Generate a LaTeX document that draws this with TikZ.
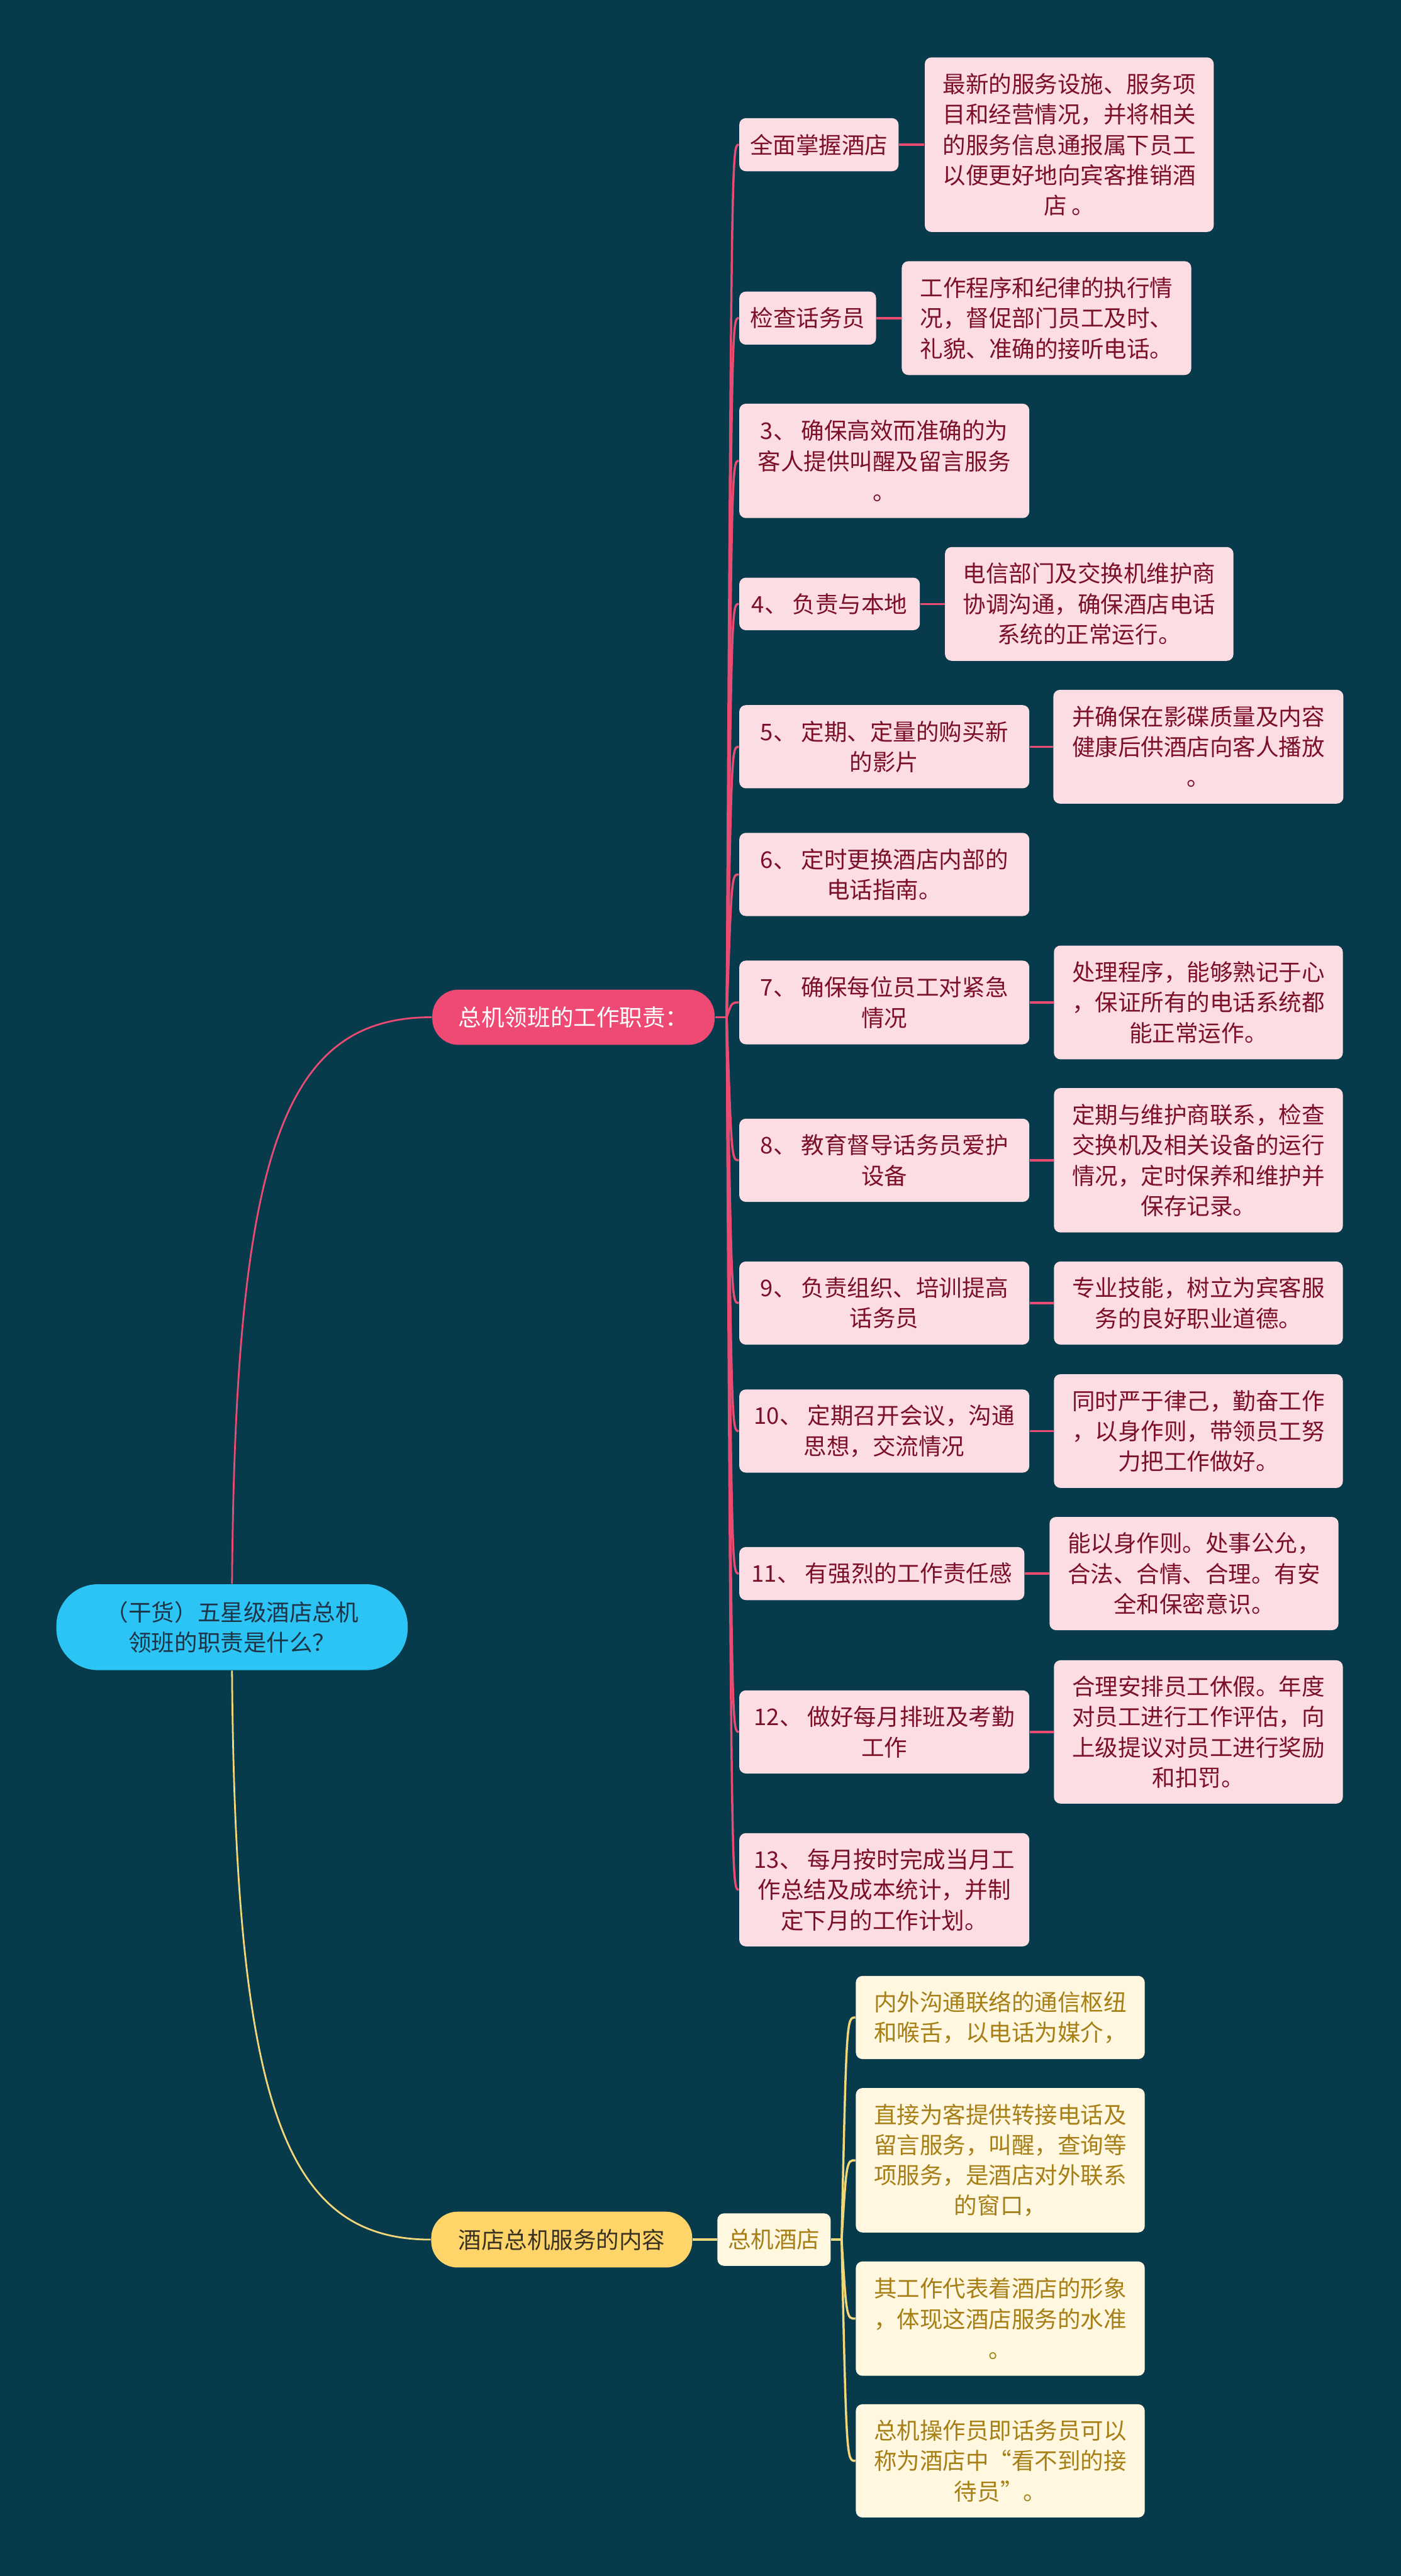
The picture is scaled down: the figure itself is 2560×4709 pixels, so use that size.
\documentclass[tikz,border=0pt]{standalone}
\usepackage{fontspec}
\newfontfamily\cjk{Noto Sans CJK SC}
\definecolor{bg}{HTML}{073A4B}
\definecolor{pinkline}{HTML}{E94B72}
\definecolor{pinkfill}{HTML}{FDDDE4}
\definecolor{pinktext}{HTML}{7B1028}
\definecolor{rootc}{HTML}{2CC3F5}
\definecolor{roottext}{HTML}{1E3446}
\definecolor{bonec}{HTML}{EF4A73}
\definecolor{btwoc}{HTML}{FFD56A}
\definecolor{btwotext}{HTML}{3A3220}
\definecolor{yline}{HTML}{F2D77A}
\definecolor{creamfill}{HTML}{FFF7E0}
\definecolor{creamtext}{HTML}{A67F16}
\tikzset{
  base/.style={inner sep=0pt, align=center, font=\cjk\fontsize{10.5}{13.875}\selectfont},
  sz/.style 2 args={minimum width={#1*0.25pt}, minimum height={#2*0.25pt}},
  pk/.style={base, fill=pinkfill, text=pinktext, rounded corners=3pt},
  cr/.style={base, fill=creamfill, text=creamtext, rounded corners=3pt},
  pill/.style={base},
  pl/.style={draw=pinkline, line width=1pt},
  yl/.style={draw=yline, line width=1pt},
  mainpl/.style={draw=pinkline, line width=0.8pt},
  mainyl/.style={draw=yline, line width=0.8pt}
}
\begin{document}
\begin{tikzpicture}[x=0.25pt,y=-0.25pt]
\fill[bg] (0,0) rectangle (2560,4709);
\useasboundingbox (0,0) rectangle (2560,4709);

% root and branches
\node[pill, fill=rootc, text=roottext, sz={642}{157}, rounded corners=19pt] (root) at (424,2974.5) {（干货）五星级酒店总机\\领班的职责是什么？};
\node[pill, fill=bonec, text=white, sz={516}{101}, rounded corners=12pt] (b1) at (1048,1859.5) {总机领班的工作职责：};
\node[pill, fill=btwoc, text=btwotext, sz={477}{102}, rounded corners=12pt] (b2) at (1026.5,4094) {酒店总机服务的内容};

% items
\node[pk,sz={291}{97}] (i1) at (1496.5,264.5) {全面掌握酒店};
\node[pk,sz={250}{97}] (i2) at (1476,581.5) {检查话务员};
\node[pk,sz={530}{209}] (i3) at (1616,842.5) {3、 确保高效而准确的为\\客人提供叫醒及留言服务\\。};
\node[pk,sz={330}{96}] (i4) at (1516,1104) {4、 负责与本地};
\node[pk,sz={530}{152}] (i5) at (1616,1365) {5、 定期、定量的购买新\\的影片};
\node[pk,sz={530}{152}] (i6) at (1616,1598.5) {6、 定时更换酒店内部的\\电话指南。};
\node[pk,sz={530}{153}] (i7) at (1616,1832.5) {7、 确保每位员工对紧急\\情况};
\node[pk,sz={530}{152}] (i8) at (1616,2121) {8、 教育督导话务员爱护\\设备};
\node[pk,sz={530}{152}] (i9) at (1616,2382) {9、 负责组织、培训提高\\话务员};
\node[pk,sz={530}{152}] (i10) at (1616,2616) {10、 定期召开会议，沟通\\思想，交流情况};
\node[pk,sz={521}{97}] (i11) at (1611.5,2876.5) {11、 有强烈的工作责任感};
\node[pk,sz={530}{152}] (i12) at (1616,3166) {12、 做好每月排班及考勤\\工作};
\node[pk,sz={530}{207}] (i13) at (1616,3454.5) {13、 每月按时完成当月工\\作总结及成本统计，并制\\定下月的工作计划。};

% details
\node[pk,sz={528}{319}] (d1) at (1954,264.5) {最新的服务设施、服务项\\目和经营情况，并将相关\\的服务信息通报属下员工\\以便更好地向宾客推销酒\\店 。};
\node[pk,sz={529}{208}] (d2) at (1912.5,581.5) {工作程序和纪律的执行情\\况，督促部门员工及时、\\礼貌、准确的接听电话。};
\node[pk,sz={527}{208}] (d4) at (1990.5,1104) {电信部门及交换机维护商\\协调沟通，确保酒店电话\\系统的正常运行。};
\node[pk,sz={530}{208}] (d5) at (2190,1365) {并确保在影碟质量及内容\\健康后供酒店向客人播放\\。};
\node[pk,sz={528}{208}] (d7) at (2190,1832.5) {处理程序，能够熟记于心\\，保证所有的电话系统都\\能正常运作。};
\node[pk,sz={528}{264}] (d8) at (2190,2121) {定期与维护商联系，检查\\交换机及相关设备的运行\\情况，定时保养和维护并\\保存记录。};
\node[pk,sz={528}{152}] (d9) at (2190,2382) {专业技能，树立为宾客服\\务的良好职业道德。};
\node[pk,sz={528}{208}] (d10) at (2190,2616) {同时严于律己，勤奋工作\\，以身作则，带领员工努\\力把工作做好。};
\node[pk,sz={528}{207}] (d11) at (2182,2876.5) {能以身作则。处事公允，\\合法、合情、合理。有安\\全和保密意识。};
\node[pk,sz={528}{262}] (d12) at (2190,3166) {合理安排员工休假。年度\\对员工进行工作评估，向\\上级提议对员工进行奖励\\和扣罚。};

% branch 2 children
\node[cr,sz={207}{96}] (z0) at (1414.5,4094) {总机酒店};
\node[cr,sz={528}{152}] (c1) at (1828,3688) {内外沟通联络的通信枢纽\\和喉舌，以电话为媒介，};
\node[cr,sz={528}{264}] (c2) at (1828,3949) {直接为客提供转接电话及\\留言服务，叫醒，查询等\\项服务，是酒店对外联系\\的窗口，};
\node[cr,sz={528}{209}] (c3) at (1828,4238.5) {其工作代表着酒店的形象\\，体现这酒店服务的水准\\。};
\node[cr,sz={528}{207}] (c4) at (1828,4498.5) {总机操作员即话务员可以\\称为酒店中“看不到的接\\待员”。};

% connectors
\draw[mainpl] (root.north) .. controls (430,2100) and (520,1859.5) .. (b1.west);
\draw[mainyl] (root.south) .. controls (430,3849) and (520,4094) .. (b2.west);

\coordinate (h1) at (1328,1859.5);
\coordinate (h1c) at (1337,1859.5);
\draw[pl] (b1.east) -- (h1);
\foreach \i in {1,...,13}
  \draw[pl] (h1) .. controls (h1c |- i\i.west) and (h1c |- i\i.west) .. (i\i.west);
\foreach \i in {1,2,4,5,7,8,9,10,11,12}
  \draw[pl] (i\i.east) -- (i\i.east -| d\i.west);

\coordinate (h2) at (1538,4094);
\coordinate (h2c) at (1547,4094);
\draw[yl] (b2.east) -- (z0.west);
\draw[yl] (z0.east) -- (h2);
\foreach \i in {1,...,4}
  \draw[yl] (h2) .. controls (h2c |- c\i.west) and (h2c |- c\i.west) .. (c\i.west);
\end{tikzpicture}
\end{document}
